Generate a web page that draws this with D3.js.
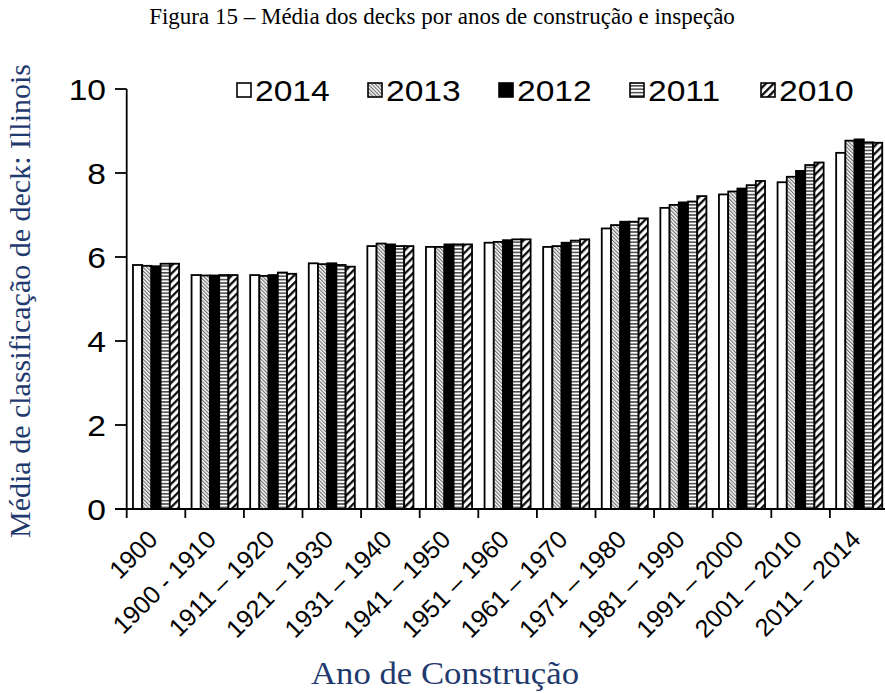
<!DOCTYPE html>
<html><head><meta charset="utf-8">
<script src="https://cdn.jsdelivr.net/npm/d3@7"></script>
<style>body{margin:0;background:#fff}svg{display:block}</style>
</head><body>
<script>
const categories = ["1900","1900 - 1910","1911 – 1920","1921 – 1930","1931 – 1940","1941 – 1950","1951 – 1960","1961 – 1970","1971 – 1980","1981 – 1990","1991 – 2000","2001 – 2010","2011 – 2014"];
const years = ["2014","2013","2012","2011","2010"];
const v2014 = [5.81,5.57,5.57,5.85,6.26,6.24,6.34,6.24,6.68,7.17,7.49,7.78,8.48];
const v2013 = [5.79,5.56,5.55,5.83,6.32,6.24,6.36,6.26,6.76,7.24,7.56,7.91,8.77];
const v2012 = [5.78,5.56,5.57,5.85,6.30,6.30,6.40,6.34,6.84,7.30,7.63,8.05,8.80];
const v2011 = [5.84,5.57,5.63,5.81,6.26,6.30,6.42,6.39,6.84,7.32,7.71,8.19,8.73];
const v2010 = [5.84,5.57,5.60,5.77,6.26,6.30,6.42,6.42,6.92,7.45,7.81,8.25,8.72];
const yTicks = [0,2,4,6,8,10];
const seriesValues = {"2014":v2014,"2013":v2013,"2012":v2012,"2011":v2011,"2010":v2010};

const W=885,H=693;
const svg=d3.select("body").append("svg").attr("width",W).attr("height",H);
const defs=svg.append("defs");
const p13=defs.append("pattern").attr("id","p2013").attr("patternUnits","userSpaceOnUse").attr("width",2.6).attr("height",2.6).attr("patternTransform","rotate(-45)");
p13.append("rect").attr("width",2.6).attr("height",2.6).attr("fill","#fff");
p13.append("line").attr("x1",0.6).attr("y1",0).attr("x2",0.6).attr("y2",2.6).attr("stroke","#666").attr("stroke-width",1.1);
const p11=defs.append("pattern").attr("id","p2011").attr("patternUnits","userSpaceOnUse").attr("width",4).attr("height",3.4);
p11.append("rect").attr("width",4).attr("height",3.4).attr("fill","#fff");
p11.append("line").attr("x1",0).attr("y1",0.8).attr("x2",4).attr("y2",0.8).attr("stroke","#333").attr("stroke-width",1.4);
const p10=defs.append("pattern").attr("id","p2010").attr("patternUnits","userSpaceOnUse").attr("width",5.5).attr("height",5.5).attr("patternTransform","rotate(45)");
p10.append("rect").attr("width",5.5).attr("height",5.5).attr("fill","#fff");
p10.append("line").attr("x1",1.2).attr("y1",0).attr("x2",1.2).attr("y2",5.5).attr("stroke","#000").attr("stroke-width",2.2);
const fills={"2014":"#fff","2013":"url(#p2013)","2012":"#000","2011":"url(#p2011)","2010":"url(#p2010)"};

const x=d3.scaleBand().domain(categories).range([126.7,888.5]).paddingInner(0).paddingOuter(0);
const xi=d3.scaleBand().domain(years).range([0,x.bandwidth()]).paddingInner(0).paddingOuter(0.68);
const y=d3.scaleLinear().domain([0,10]).range([509,89]);

svg.append("text").attr("x",442).attr("y",24).attr("text-anchor","middle")
  .attr("font-family","Liberation Serif, Times New Roman, serif").attr("font-size",23).attr("fill","#000")
  .text("Figura 15 – Média dos decks por anos de construção e inspeção");

const g=svg.append("g");
categories.forEach((c,i)=>{
  years.forEach(yr=>{
    const v=seriesValues[yr][i];
    g.append("rect").attr("x",x(c)+xi(yr)).attr("y",y(v)).attr("width",xi.bandwidth()).attr("height",y(0)-y(v))
      .attr("fill",fills[yr]).attr("stroke","#000").attr("stroke-width",1.8);
  });
});

const ax=svg.append("g").attr("stroke","#000").attr("stroke-width",1.8);
ax.append("line").attr("x1",126.7).attr("x2",126.7).attr("y1",y(0)).attr("y2",y(10));
ax.append("line").attr("x1",115).attr("x2",888).attr("y1",y(0)).attr("y2",y(0));
yTicks.forEach(t=>{
  ax.append("line").attr("x1",115).attr("x2",126.7).attr("y1",y(t)).attr("y2",y(t));
});
categories.forEach(c=>{
  ax.append("line").attr("x1",x(c)).attr("x2",x(c)).attr("y1",y(0)).attr("y2",y(0)+9);
});
svg.selectAll(".yt").data(yTicks).enter().append("text")
  .attr("transform",d=>`translate(106,${y(d)+11}) scale(1.12,1)`)
  .attr("text-anchor","end").attr("font-family","Liberation Sans, Arial, sans-serif").attr("font-size",30).text(d=>d);

svg.selectAll(".xt").data(categories).enter().append("text")
  .attr("transform",d=>`translate(${x(d)+x.bandwidth()/2+3},${y(0)+32}) rotate(-45)`)
  .attr("text-anchor","end").attr("font-family","Liberation Sans, Arial, sans-serif").attr("font-size",25).text(d=>d);

svg.append("text").attr("transform","translate(30,301) rotate(-90)").attr("text-anchor","middle")
  .attr("font-family","Liberation Serif, Times New Roman, serif").attr("font-size",30).attr("fill","#1f3a6e")
  .text("Média de classificação de deck: Illinois");
svg.append("text").attr("transform","translate(445,684) scale(1.12,1)").attr("text-anchor","middle")
  .attr("font-family","Liberation Serif, Times New Roman, serif").attr("font-size",31).attr("fill","#1f3a6e")
  .text("Ano de Construção");

const lg=svg.append("g");
years.forEach((yr,i)=>{
  const lx=237+i*131;
  lg.append("rect").attr("x",lx).attr("y",83).attr("width",14).attr("height",14).attr("fill",fills[yr]).attr("stroke","#000").attr("stroke-width",1.6);
  lg.append("text").attr("transform",`translate(${lx+18},101) scale(1.12,1)`).attr("font-family","Liberation Sans, Arial, sans-serif").attr("font-size",30).text(yr);
});
</script>
</body></html>
